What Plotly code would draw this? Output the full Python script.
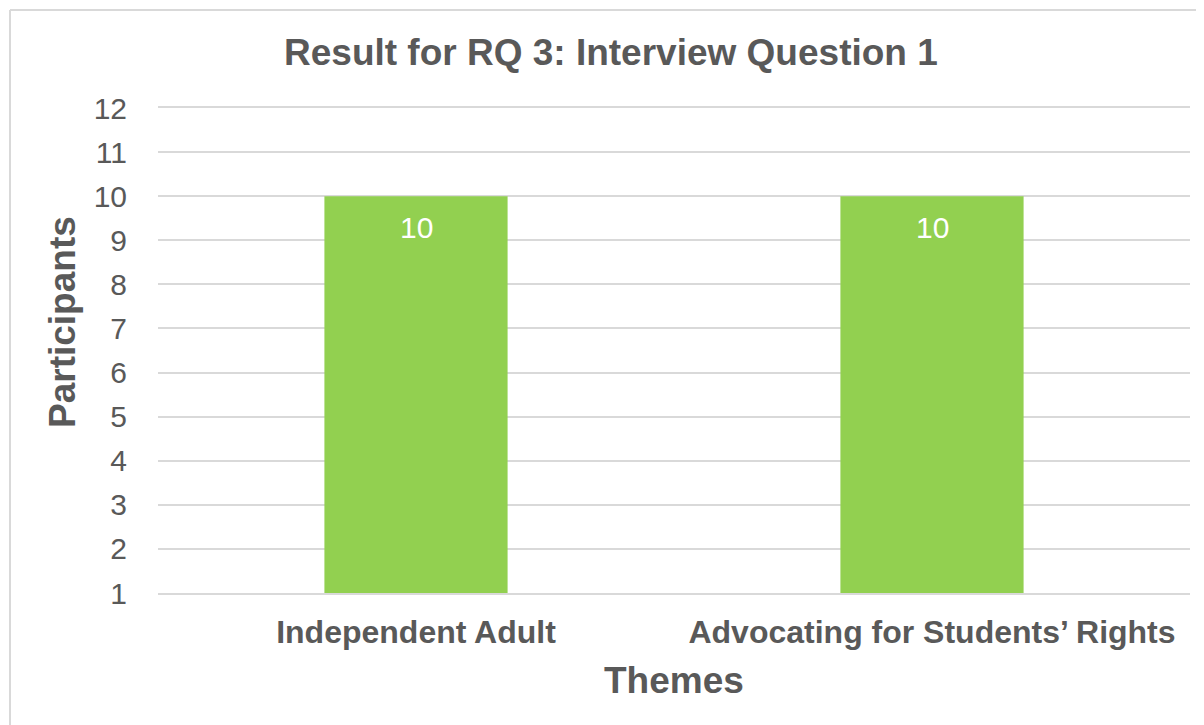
import plotly.graph_objects as go

categories = ["Independent Adult", "Advocating for Students’ Rights"]
values = [10, 10]
y_ticks = list(range(1, 13))

FONT = "Liberation Sans, Arial, sans-serif"
GREY = "#595959"

# page has an 8px body margin: figure is placed at (8, 8)
OFF = 8
W, H = 1204 - OFF, 725 - OFF
L, R, T, B = 158 - OFF, 14, 108 - OFF, 132

fig = go.Figure(go.Bar(
    x=categories, y=values,
    marker=dict(color="#92D050", line=dict(width=0)),
))

pw = W - L - R
ph = H - T - B
def px_x(x):  # page pixel -> paper
    return (x - OFF - L) / pw
def px_y(y):
    return (H - B - (y - OFF)) / ph

label_anns = [
    dict(text=str(v), x=c, y=v, xref="x", yref="y", showarrow=False,
         xanchor="center", yanchor="middle", yshift=-31,
         font=dict(family=FONT, size=30, color="white"))
    for c, v in zip(categories, values)
]

fig.update_layout(
    width=W, height=H,
    margin=dict(l=L, r=R, t=T, b=B),
    paper_bgcolor="white", plot_bgcolor="white",
    bargap=0.645,
    showlegend=False,
    font=dict(family=FONT, color=GREY),
    xaxis=dict(
        showgrid=False, showline=True, mirror=True, linecolor="#D9D9D9", linewidth=1.5,
        tickfont=dict(family=FONT, size=32, color=GREY, weight="bold"),
        ticks="", ticklabelstandoff=10,
    ),
    yaxis=dict(
        range=[1, 12], tickvals=y_ticks,
        showgrid=True, gridcolor="#D9D9D9", gridwidth=1.5,
        zeroline=False, showline=False, ticks="",
        tickfont=dict(family=FONT, size=30, color=GREY),
        ticklabelstandoff=30,
    ),
    annotations=label_anns + [
        dict(text="<b>Result for RQ 3: Interview Question 1</b>",
             x=px_x(611), y=px_y(53), xref="paper", yref="paper",
             xanchor="center", yanchor="middle", showarrow=False,
             font=dict(family=FONT, size=37, color=GREY)),
        dict(text="<b>Themes</b>", x=px_x(674), y=px_y(680),
             xref="paper", yref="paper", xanchor="center", yanchor="middle",
             showarrow=False, font=dict(family=FONT, size=37, color=GREY)),
        dict(text="<b>Participants</b>", x=px_x(62), y=px_y(322),
             xref="paper", yref="paper", xanchor="center", yanchor="middle",
             showarrow=False, textangle=-90, font=dict(family=FONT, size=37, color=GREY)),
    ],
    shapes=[
        dict(type="line", xref="paper", yref="paper",
             x0=px_x(10), x1=px_x(10), y0=px_y(10), y1=px_y(760),
             line=dict(color="#D9D9D9", width=2)),
        dict(type="line", xref="paper", yref="paper",
             x0=px_x(10), x1=px_x(1250), y0=px_y(10), y1=px_y(10),
             line=dict(color="#D9D9D9", width=2)),
    ],
)

fig.write_html("out.html")
